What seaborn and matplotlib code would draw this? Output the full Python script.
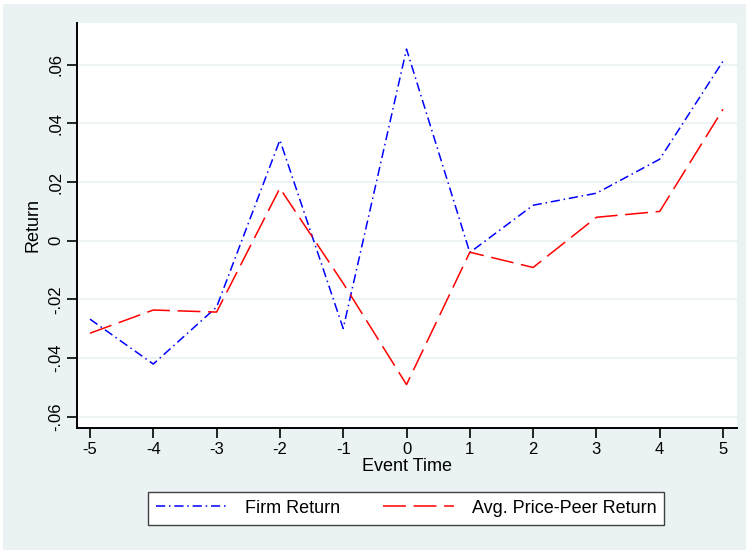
import pandas as pd
import seaborn as sns
import matplotlib.pyplot as plt
from matplotlib.patches import Rectangle

event_time = [-5, -4, -3, -2, -1, 0, 1, 2, 3, 4, 5]
firm_return = [-0.0267, -0.0420, -0.0226, 0.0343, -0.0299, 0.0653, -0.0040, 0.0121, 0.0162, 0.0278, 0.0612]
peer_return = [-0.0315, -0.0236, -0.0243, 0.0179, -0.0145, -0.0490, -0.0039, -0.0091, 0.0080, 0.0100, 0.0448]
y_ticks = [-0.06, -0.04, -0.02, 0, 0.02, 0.04, 0.06]
y_labels = ["-.06", "-.04", "-.02", "0", ".02", ".04", ".06"]

df = pd.DataFrame({"Event Time": event_time,
                   "Firm Return": firm_return,
                   "Avg. Price-Peer Return": peer_return})

sns.set_theme(style="white")
plt.rcParams['font.family'] = ['Liberation Sans', 'DejaVu Sans']
plt.rcParams['text.color'] = 'black'

bg = "#EAF2F3"
fig = plt.figure(figsize=(7.46, 5.51), dpi=100, facecolor="white")
# graph region with thin white margin, like Stata's s2color scheme
fig.patches.append(Rectangle((3 / 746, 1 / 551), 743 / 746, 546 / 551,
                             transform=fig.transFigure, facecolor=bg, edgecolor="none", zorder=-10))
ax = fig.add_axes([0.1032, 0.2232, 0.8847, 0.7351])
ax.set_facecolor("white")

sns.lineplot(data=df, x="Event Time", y="Firm Return", ax=ax, color="#0000FF",
             lw=1.1, label="Firm Return")
sns.lineplot(data=df, x="Event Time", y="Avg. Price-Peer Return", ax=ax, color="#FF0000",
             lw=1.1, label="Avg. Price-Peer Return")
ax.lines[0].set_dashes([6, 2.5, 1, 2.5])
ax.lines[1].set_dashes([15, 5])

ax.set_xlim(-5.205, 5.22)
ax.set_ylim(-0.0638, 0.0742)
ax.set_xticks(event_time)
ax.set_xticklabels([str(v) for v in event_time])
ax.set_yticks(y_ticks)
ax.set_yticklabels(y_labels, rotation=90, va="center")
ax.yaxis.grid(True, color=bg, lw=1.3)
ax.set_axisbelow(True)

for s in ["top", "right"]:
    ax.spines[s].set_visible(False)
for s in ["left", "bottom"]:
    ax.spines[s].set_color("black")
    ax.spines[s].set_linewidth(1.4)
ax.tick_params(axis="both", direction="out", length=7, width=1.2, color="black",
               labelsize=12, labelcolor="black", left=True, bottom=True, pad=3)

ax.set_xlabel("Event Time", fontsize=13, color="black", labelpad=1)
ax.set_ylabel("Return", fontsize=13, color="black", labelpad=5)

ax.get_legend().remove()
h, lab = ax.get_legend_handles_labels()
leg = fig.legend(h, lab, loc="center", bbox_to_anchor=(0.5445, 0.0775), ncol=2,
                 frameon=True, fancybox=False, framealpha=1, fontsize=13, handlelength=3.9,
                 columnspacing=2.4, handletextpad=1.0, borderpad=0.45, borderaxespad=0)
leg.get_frame().set_edgecolor("#404040")
leg.get_frame().set_linewidth(1.0)
leg.get_frame().set_facecolor("white")
for t in leg.get_texts():
    t.set_color("black")

plt.savefig("out.png", dpi=100, facecolor="white")
